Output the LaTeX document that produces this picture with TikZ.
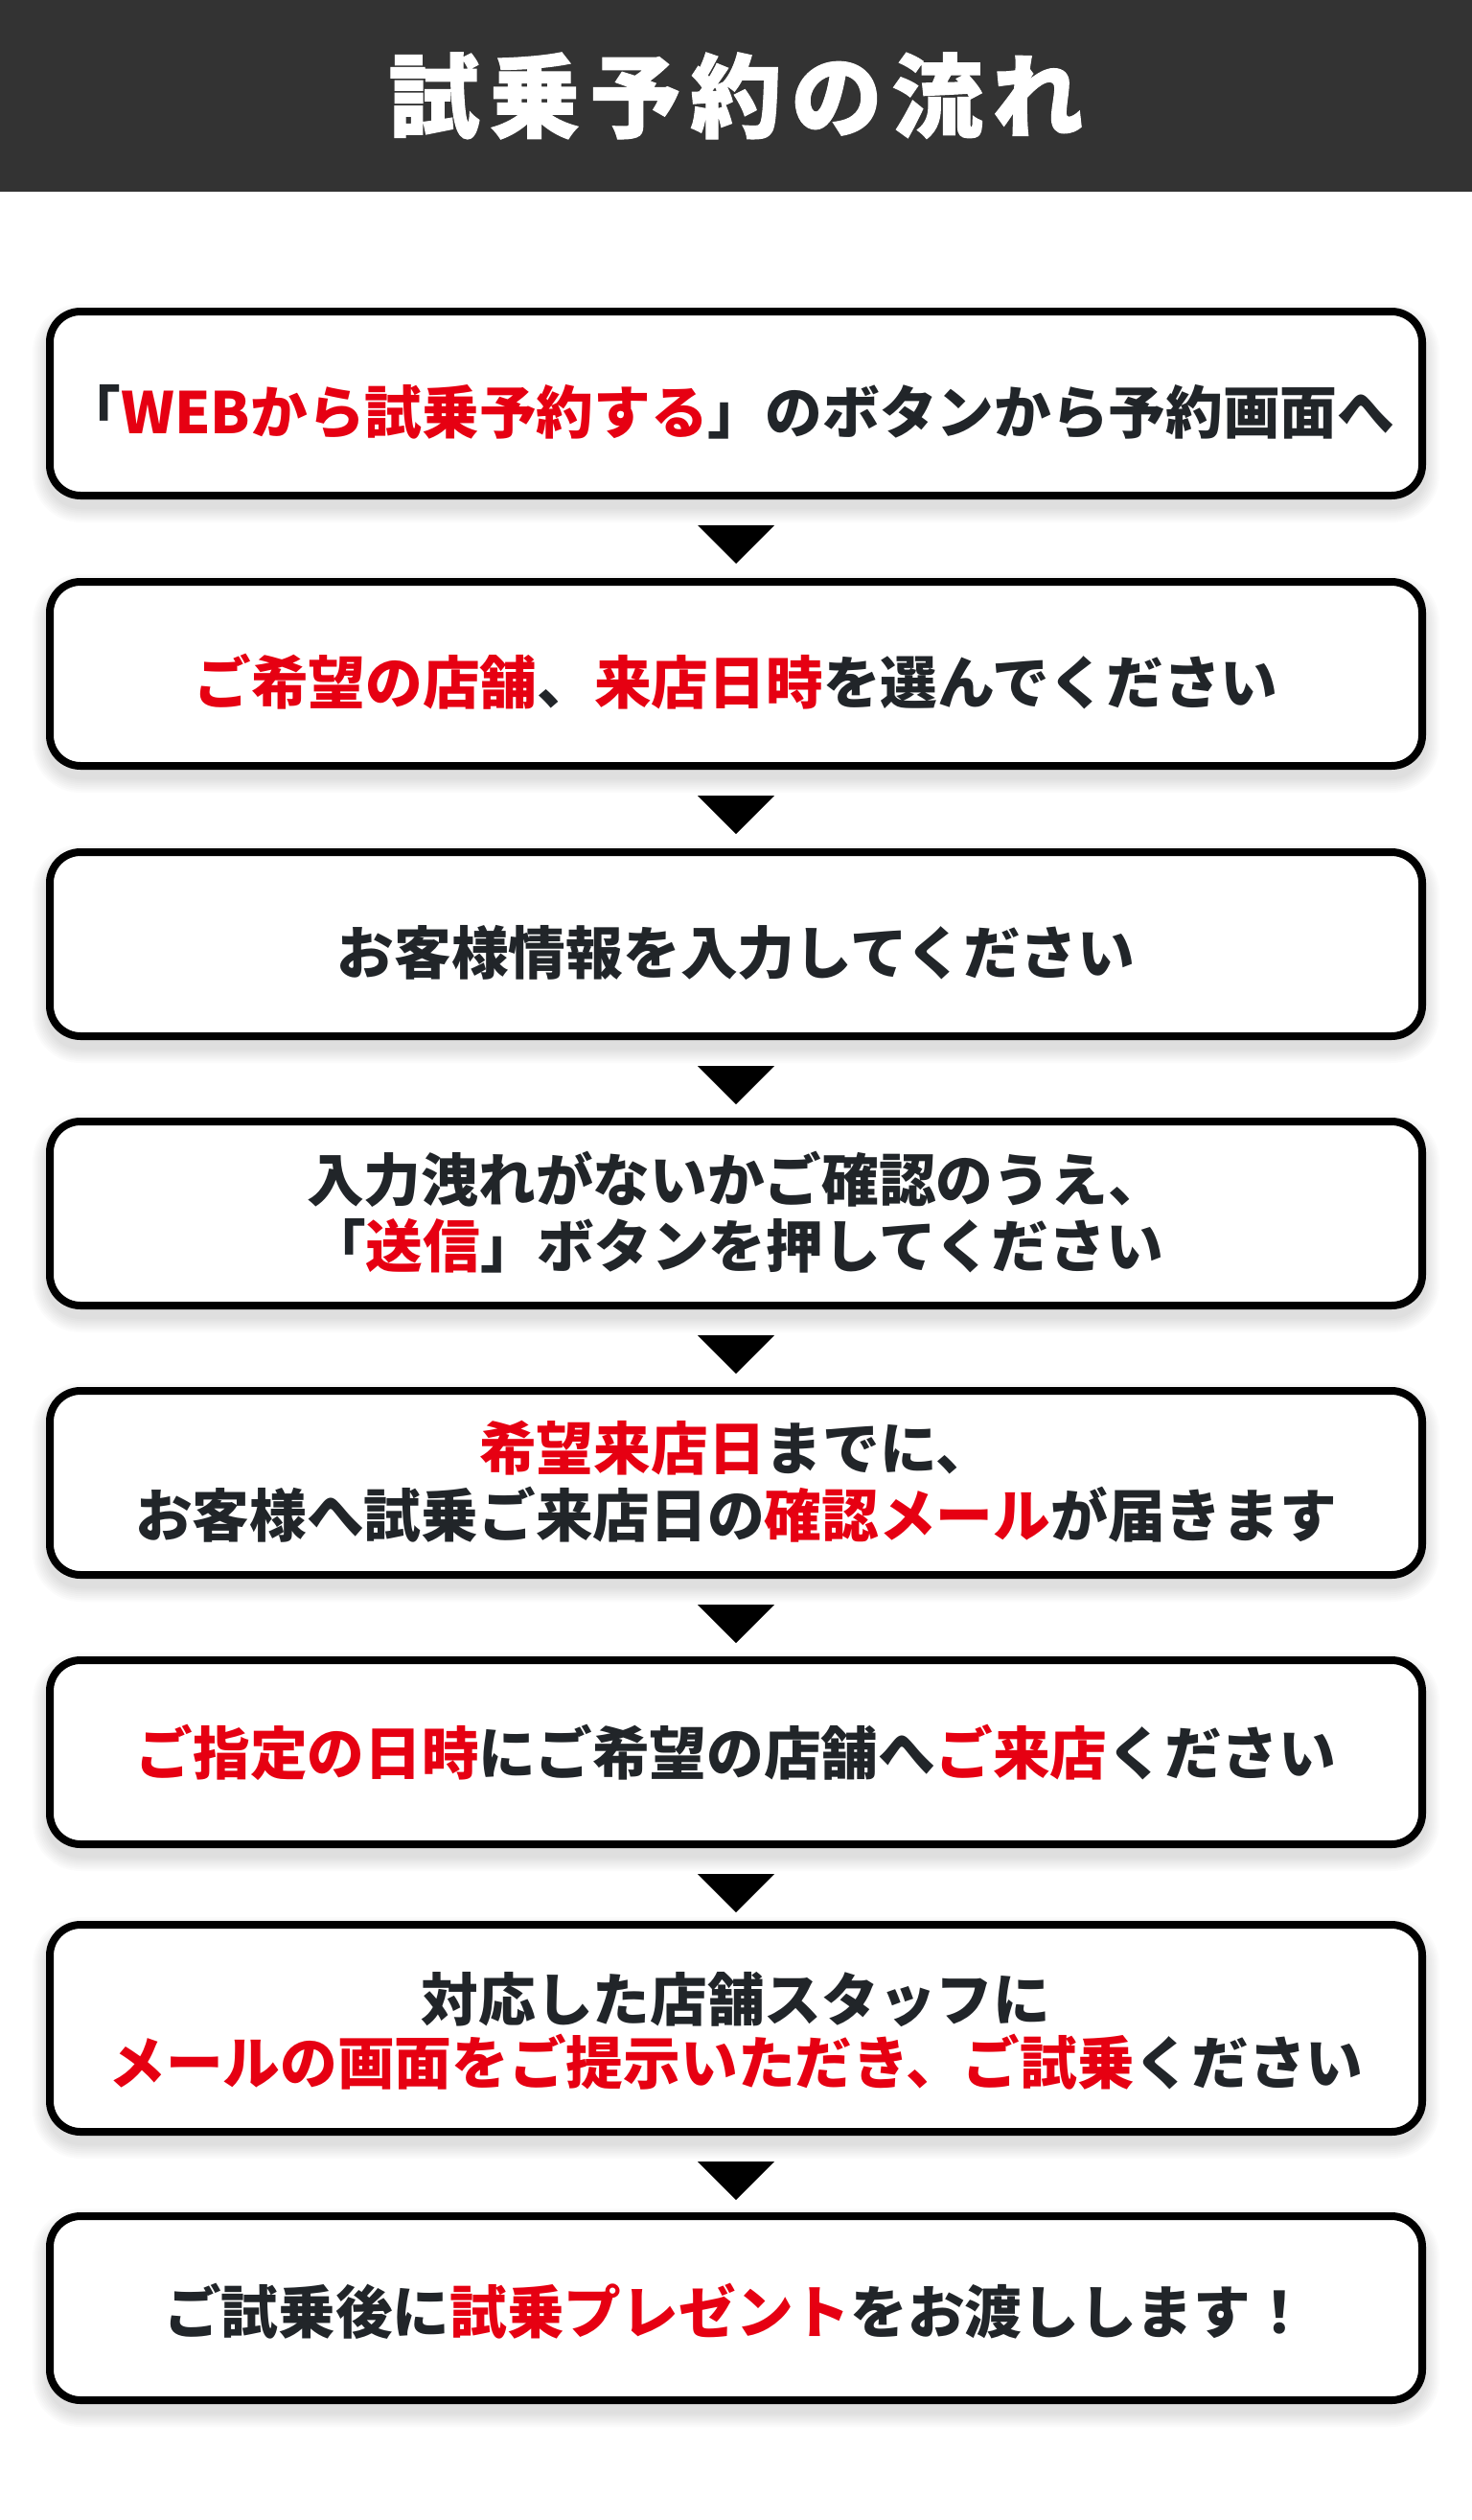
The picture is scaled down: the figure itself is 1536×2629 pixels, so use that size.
\documentclass[tikz,border=0pt]{standalone}
\usepackage{fontspec}
\usetikzlibrary{calc}
\newfontfamily\jpfont{Noto Sans CJK JP}
\newfontfamily\ttlfont{Noto Sans CJK JP}[BoldFeatures={FakeBold=1.2}]
\definecolor{hdr}{HTML}{333333}
\definecolor{ink}{HTML}{212529}
\definecolor{accent}{HTML}{E60012}
\newcommand\ac[1]{\textcolor{accent}{#1}}
\newcommand\tsp{\hspace{10pt}}
\tikzset{
  stepbox/.style={draw=black, line width=8pt, rounded corners=32pt, fill=white,
    minimum width=1432pt, inner sep=0pt},
  txt/.style={anchor=base, inner sep=0pt, text=ink,
    font=\jpfont\bfseries\fontsize{59.7}{66}\selectfont},
  ttl/.style={anchor=base, inner sep=0pt, text=white,
    font=\ttlfont\bfseries\fontsize{95}{100}\selectfont},
  tri/.style={fill=black},
}
% name, top, bottom
\newcommand\flowbox[3]{%
  \foreach \k in {0,...,7}{%
    \pgfmathsetmacro\rr{36+2*\k}%
    \fill[black, fill opacity=0.016, rounded corners=\rr pt]
      ({48-2*\k},{#2+10-2*\k}) rectangle ({1488+2*\k},{#3+10+2*\k});
  }%
  \node[stepbox, minimum height={#3-#2-8}] (#1) at (768,{(#2+#3)/2}) {};
}
\newcommand\downtri[2]{% from box, to box
  \fill[tri] ($(#1.south)+(-40,27)$) -- ($(#1.south)+(40,27)$) -- ($(#1.south)+(0,67)$) -- cycle;
}
\begin{document}
\begin{tikzpicture}[x=1pt,y=-1pt]
\useasboundingbox (0,0) rectangle (1536,2629);
\fill[white] (0,0) rectangle (1536,2629);
\fill[hdr] (0,0) rectangle (1536,200);
\node[ttl] (title) at (768,136) {試\tsp 乗\tsp 予\tsp 約\tsp の\tsp 流\tsp れ};

\flowbox{b1}{321}{521}
\flowbox{b2}{603}{803}
\flowbox{b3}{885}{1085}
\flowbox{b4}{1166}{1366}
\flowbox{b5}{1447}{1647}
\flowbox{b6}{1728}{1928}
\flowbox{b7}{2004}{2228}
\flowbox{b8}{2308}{2508}

\downtri{b1}{b2}
\downtri{b2}{b3}
\downtri{b3}{b4}
\downtri{b4}{b5}
\downtri{b5}{b6}
\downtri{b6}{b7}
\downtri{b7}{b8}

\node[txt] (t1) at ($(b1.center)+(-7,31)$) {「\ac{WEBから試乗予約する}」のボタンから予約画面へ};
\node[txt] (t2) at ($(b2.center)+(0,31)$) {\ac{ご希望の店舗}、\ac{来店日時}を選んでください};
\node[txt] (t3) at ($(b3.center)+(0,31)$) {お客様情報を入力してください};
\node[txt] (t4a) at ($(b4.center)+(0,-13)$) {入力洩れがないかご確認のうえ、};
\node[txt] (t4b) at ($(b4.center)+(0,56)$) {「\ac{送信}」ボタンを押してください};
\node[txt] (t5a) at ($(b5.center)+(0,-14)$) {\ac{希望来店日}までに、};
\node[txt] (t5b) at ($(b5.center)+(0,56)$) {お客様へ試乗ご来店日の\ac{確認メール}が届きます};
\node[txt] (t6) at ($(b6.center)+(0,23)$) {\ac{ご指定の日時}にご希望の店舗へ\ac{ご来店}ください};
\node[txt] (t7a) at ($(b7.center)+(0,-8)$) {対応した店舗スタッフに};
\node[txt] (t7b) at ($(b7.center)+(0,58)$) {\ac{メールの画面をご提示いただき、ご試乗}ください};
\node[txt] (t8) at ($(b8.center)+(0,26)$) {ご試乗後に\ac{試乗プレゼント}をお渡しします！};
\end{tikzpicture}
\end{document}
